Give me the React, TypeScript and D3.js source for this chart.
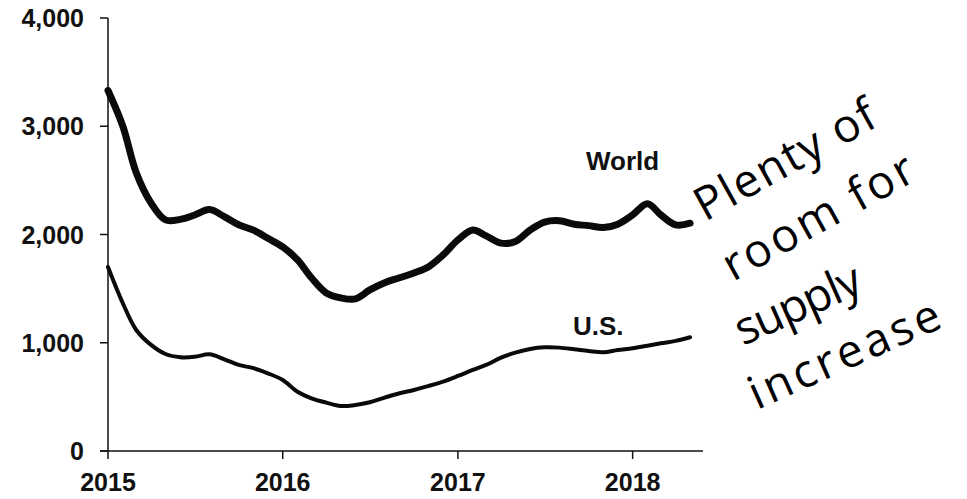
import { scaleTime, scaleLinear, line as d3_line, curveCatmullRom } from "d3";

// monthly readings, Jan 2015 .. May 2018
let world = [
  3330, 3000, 2570, 2290, 2135, 2140, 2180, 2230, 2165, 2090, 2040, 1965,
  1885, 1765, 1600, 1460, 1415, 1405, 1488, 1555, 1600, 1645, 1703, 1811,
  1950, 2042, 1987, 1920, 1935, 2042, 2115, 2127, 2095, 2082, 2064, 2095,
  2181, 2283, 2181, 2089, 2104,
];
let us = [
  1700, 1365, 1118, 980, 896, 866, 870, 893, 847, 795, 765, 718,
  656, 548, 487, 447, 416, 425, 450, 493, 533, 564, 601, 641,
  693, 749, 795, 863, 909, 943, 958, 955, 940, 924, 912, 933,
  949, 973, 995, 1017, 1051,
];
let yTicks = [0, 1000, 2000, 3000, 4000];
let xTickYears = [2015, 2016, 2017, 2018];
let note = ["Plenty of", "room for", "supply", "increase"];

let months = world.map((_, i) => new Date(2015, i, 1));

const FONT = "Liberation Sans, Arial, sans-serif";

export default function App() {
  let x = scaleTime()
    .domain([new Date(2015, 0, 1), new Date(2018, 4, 28)])
    .range([108, 703]);
  let y = scaleLinear().domain([0, 4000]).range([451, 18]);

  let line = d3_line<number>()
    .x((_, i) => x(months[i]))
    .y((d) => y(d))
    .curve(curveCatmullRom.alpha(0.5));

  // handwritten note: baseline start, angle, length
  let noteLayout = [
    { x: 705, y: 222, a: -29, len: 200 },
    { x: 733, y: 282, a: -29, len: 212 },
    { x: 743, y: 346, a: -24, len: 134 },
    { x: 757, y: 410, a: -24, len: 205 },
  ];

  return (
    <svg
      width={967}
      height={499}
      style={{ position: "absolute", left: 0, top: 0, background: "#fff" }}
    >
      {/* Y axis */}
      <line x1={108} x2={108} y1={y(4000)} y2={y(0)} stroke="#111" strokeWidth={1.5} />
      {yTicks.map((t) => (
        <g key={t} transform={`translate(0,${y(t)})`}>
          <line x1={100} x2={108} stroke="#111" strokeWidth={1.5} />
          <text
            x={84}
            dy="0.36em"
            textAnchor="end"
            fontFamily={FONT}
            fontWeight="bold"
            fontSize={25}
            fill="#111"
          >
            {t.toLocaleString("en-US")}
          </text>
        </g>
      ))}

      {/* X axis */}
      <line x1={100} x2={703} y1={y(0)} y2={y(0)} stroke="#111" strokeWidth={1.5} />
      {xTickYears.map((yr) => {
        let px = x(new Date(yr, 0, 1));
        return (
          <g key={yr} transform={`translate(${px},${y(0)})`}>
            <line y1={0} y2={8} stroke="#111" strokeWidth={1.5} />
            <text
              y={40}
              textAnchor="middle"
              fontFamily={FONT}
              fontWeight="bold"
              fontSize={25}
              fill="#111"
            >
              {yr}
            </text>
          </g>
        );
      })}

      {/* Lines */}
      <path d={line(world) ?? ""} fill="none" stroke="#0a0a0a" strokeWidth={7} strokeLinejoin="round" strokeLinecap="round" />
      <path d={line(us) ?? ""} fill="none" stroke="#0a0a0a" strokeWidth={4} strokeLinejoin="round" strokeLinecap="round" />

      {/* Series labels */}
      <text x={586} y={170} fontFamily={FONT} fontWeight="bold" fontSize={26} fill="#111">
        World
      </text>
      <text x={573} y={335} fontFamily={FONT} fontWeight="bold" fontSize={26} fill="#111">
        U.S.
      </text>

      {/* Handwritten annotation */}
      {note.map((s, i) => {
        let p = noteLayout[i];
        return (
          <text
            key={s}
            transform={`translate(${p.x},${p.y}) rotate(${p.a})`}
            fontFamily="Open Sans, DejaVu Sans, sans-serif"
            fontWeight={400}
            fontSize={46}
            fill="#000"
            textLength={p.len}
            lengthAdjust="spacing"
          >
            {s}
          </text>
        );
      })}
    </svg>
  );
}
